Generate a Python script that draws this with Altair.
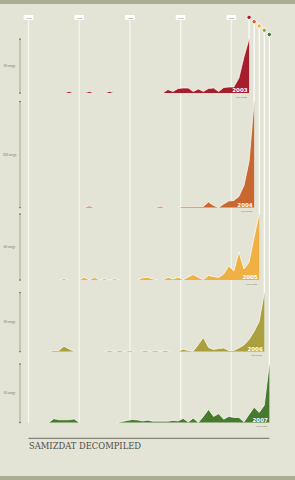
import altair as alt
import pandas as pd

# ---------------- data ----------------
decades = [1960, 1970, 1980, 1990, 2000]
decade_labels = ["1960", "1970", "1980", "1990", "2000"]

years = [2003, 2004, 2005, 2006, 2007]
colors = ["#a81d2b", "#c8672f", "#f0b144", "#aaa03e", "#477a2e"]
snapshot = [2003.5, 2004.5, 2005.5, 2006.5, 2007.5]

# yearly values of the main run of each snapshot (songs), starting at main_start
main_start = [1986.5, 1989.5, 1986.5, 1989.5, 1977.5]
main_2003 = [0, 3.5, 1.5, 4.5, 5, 5, 1.5, 4, 1.5, 4.5, 5, 1.5, 5.5, 6, 6, 15, 36, 54]
main_2004 = [0, 1, 1, 1, 1, 1, 5.5, 2, 0, 3.5, 6.5, 7, 11, 22, 46, 106]
main_2005 = [0, 2.7, 1, 2.7, 0.3, 3, 5.5, 2.5, 0.5, 4.5, 3.5, 2.5, 6, 14, 9, 28, 11, 17.7, 43, 66]
main_2006 = [0, 2.3, 1, 0.3, 7, 14, 4, 2, 3, 3.5, 1, 1, 3.5, 6.5, 12, 20, 30, 59]
main_2007 = [0, 1, 2, 3, 2.5, 1.5, 2.3, 1.3, 1.3, 1.3, 1.3, 2, 1.5, 4, 0.5, 4.3, 0,
             6, 13, 6, 8.7, 3.3, 6, 5, 5, 0.5, 8, 15, 10, 17, 58]
mains = [main_2003, main_2004, main_2005, main_2006, main_2007]

# earlier runs: (start year, values)
groups = [
    [],
    [],
    [(1981.5, [0, 2.3, 2.7, 1, 0])],
    [(1964, [0, 1, 1, 5.3, 2.5, 0])],
    [(1964, [0, 3.7, 2.7, 2.7, 2.7, 3.5, 0])],
]
# isolated single-year songs: (year, height)
bumps = [
    [(1968, 1.5), (1972, 1.5), (1976, 1.5)],
    [(1972, 1.5), (1986, 1.3)],
    [(1967, 1.3), (1971, 2.7), (1973, 2.7), (1975, 1.3), (1977, 1.3)],
    [(1976, 1), (1978, 1), (1980, 1), (1983, 1), (1985, 1), (1987, 1)],
    [],
]

axis_labels = ["50 songs", "100 songs", "60 songs", "50 songs", "50 songs"]
end_labels = ["100 songs", "150 songs", "150 songs", "150 songs", "150 songs"]

# ---------------- layout ----------------
W, H = 295, 480
BG = "#e3e3d6"
BAND = "#adad93"
baselines = [93, 207.5, 280, 351.5, 422.5]
tops = [39, 101.5, 214, 292.5, 364]
circle_y = [17.3, 21.7, 26, 30.3, 34.5]
XDOM = [1954.38, 2012.56]
xs = alt.Scale(domain=XDOM, range=[0, W], nice=False, zero=False)


def split_run(start, vals, tag):
    rows = []
    seg = 0
    prev = None
    for i, v in enumerate(vals):
        if prev is not None and prev == 0 and v == 0:
            seg += 1
        rows.append({"t": start + i, "v": v, "seg": f"{tag}{seg}"})
        prev = v
    df = pd.DataFrame(rows)
    keep = df.groupby("seg")["v"].transform("max") > 0
    return df[keep]


def series_df(i):
    parts = [split_run(main_start[i], mains[i], "m")]
    for gi, (s, vals) in enumerate(groups[i]):
        parts.append(split_run(s, vals, f"g{gi}_"))
    for bi, (c, h) in enumerate(bumps[i]):
        parts.append(pd.DataFrame({"t": [c - 1, c, c + 1], "v": [0, h, 0],
                                   "seg": [f"b{bi}"] * 3}))
    return pd.concat(parts, ignore_index=True)


def panel(i):
    df = series_df(i)
    vmax = max(mains[i])
    ys = alt.Scale(domain=[0, vmax], range=[baselines[i], tops[i]], nice=False, zero=True)
    X = alt.X("t:Q", scale=xs, axis=None)
    base = alt.Chart(df)
    area = base.mark_area(color=colors[i], opacity=1).encode(
        x=X, y=alt.Y("v:Q", scale=ys, axis=None), detail="seg:N")
    outline = base.mark_line(color="white", strokeWidth=0.7).encode(
        x=X, y=alt.Y("v:Q", scale=ys, axis=None), detail="seg:N")

    meta = pd.DataFrame({"t": [snapshot[i]], "top": [vmax], "zero": [0],
                         "mid": [vmax / 2], "year": [str(years[i])]})
    m = alt.Chart(meta)
    connector = m.mark_rule(color="white", strokeWidth=1.2).encode(
        x=X, y=alt.Y("top:Q", scale=ys, axis=None), y2=alt.value(circle_y[i]))
    circle = m.mark_circle(fill=colors[i], stroke="white", strokeWidth=1,
                           size=20, opacity=1).encode(x=X, y=alt.value(circle_y[i]))
    axisline = m.mark_rule(color="#8f8f7c", strokeWidth=0.7).encode(
        x=alt.value(20), y=alt.Y("zero:Q", scale=ys, axis=None), y2="top:Q")
    tick_df = pd.DataFrame({"v": [0, vmax]})
    ticks = alt.Chart(tick_df).mark_circle(color="#6d6d60", size=3, opacity=1).encode(
        x=alt.value(20), y=alt.Y("v:Q", scale=ys, axis=None))
    axlabel = m.mark_text(fontSize=3, color="#7d7d6e", font="Lato").encode(
        x=alt.value(9.5), y=alt.Y("mid:Q", scale=ys, axis=None),
        text=alt.value(axis_labels[i]))
    yearlabel = m.mark_text(fontSize=5.5, fontWeight="bold", color="white", align="right",
                            baseline="alphabetic", dx=-1.5, dy=-0.8,
                            font="DejaVu Sans").encode(
        x=X, y=alt.Y("zero:Q", scale=ys, axis=None), text="year:N")
    endlabel = m.mark_text(fontSize=2.6, color="#8a8a7a", align="right", baseline="top",
                           dx=-2, dy=2.5, font="Lato").encode(
        x=X, y=alt.Y("zero:Q", scale=ys, axis=None), text=alt.value(end_labels[i]))
    return alt.layer(connector, axisline, ticks, axlabel, area, outline,
                     yearlabel, endlabel, circle)


# ---------------- background layer ----------------
one = alt.Chart(pd.DataFrame({"a": [0]}))
top_band = one.mark_rect(color=BAND).encode(
    x=alt.value(0), x2=alt.value(W), y=alt.value(0), y2=alt.value(4))
bottom_band = one.mark_rect(color=BAND).encode(
    x=alt.value(0), x2=alt.value(W), y=alt.value(476), y2=alt.value(H))

dec_df = pd.DataFrame({"d": decades, "label": decade_labels})
dec = alt.Chart(dec_df)
dec_lines = dec.mark_rule(color="#f7f7f1", strokeWidth=1.2).encode(
    x=alt.X("d:Q", scale=xs, axis=None), y=alt.value(19), y2=alt.value(baselines[-1]))
dec_boxes = dec.transform_calculate(lo="datum.d - 0.95", hi="datum.d + 0.95").mark_rect(
    fill="white", cornerRadius=1).encode(
    x=alt.X("lo:Q", scale=xs, axis=None), x2="hi:Q", y=alt.value(15), y2=alt.value(20))
dec_text = dec.mark_text(fontSize=2.6, color="#7a7a6c", font="Lato").encode(
    x=alt.X("d:Q", scale=xs, axis=None), y=alt.value(17.6), text="label:N")

title_rule_df = pd.DataFrame({"a": [decades[0]], "b": [snapshot[-1]]})
title_rule = alt.Chart(title_rule_df).mark_rule(color="#6c6c60", strokeWidth=1).encode(
    x=alt.X("a:Q", scale=xs, axis=None), x2="b:Q", y=alt.value(438.3))
title = one.mark_text(fontSize=8.4, font="DejaVu Serif", color="#4e4e44", align="left",
                      baseline="alphabetic").encode(
    x=alt.value(29), y=alt.value(449), text=alt.value("SAMIZDAT DECOMPILED"))

background = alt.layer(top_band, bottom_band, dec_lines, dec_boxes, dec_text,
                       title_rule, title)

chart = alt.layer(background, *[panel(i) for i in range(5)]).resolve_scale(
    y="independent"
).properties(
    width=W, height=H, padding=0,
    autosize=alt.AutoSizeParams(type="none"),
).configure(background=BG).configure_view(stroke=None)

chart.save("out.html", embed_options={"renderer": "svg", "actions": False})
